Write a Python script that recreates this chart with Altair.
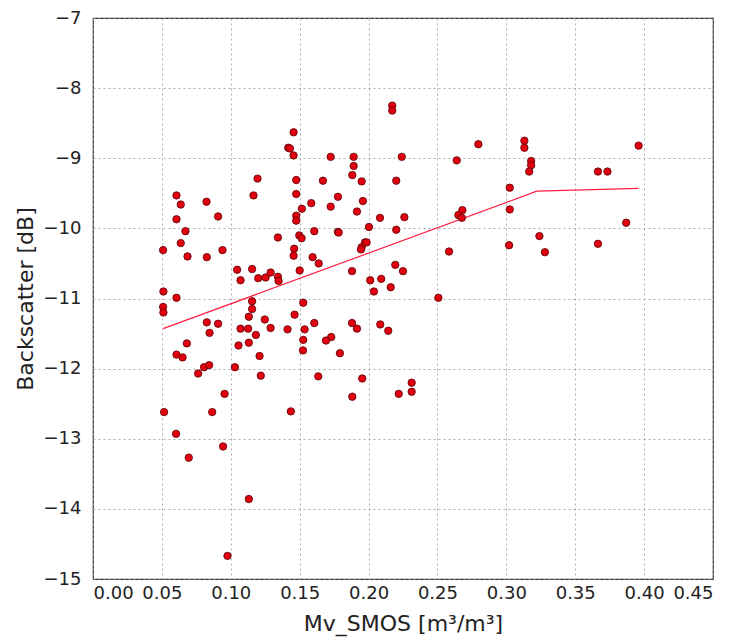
import altair as alt
import pandas as pd

# Scatter data: Mv_SMOS soil moisture [m3/m3] vs backscatter [dB]
mv_smos = [
    0.0509, 0.0606, 0.0637, 0.0606, 0.0671, 0.0637, 0.0686, 0.0824, 0.0908, 0.0826,
    0.0940, 0.0511, 0.0606, 0.0509, 0.0511, 0.0826, 0.0908, 0.0846, 0.0681, 0.0606,
    0.0650, 0.0806, 0.0843, 0.1030, 0.1194, 0.1165, 0.1342, 0.1046, 0.1071, 0.1155,
    0.1199, 0.1253, 0.1289, 0.1342, 0.1347, 0.1155, 0.1155, 0.1131, 0.1247, 0.1289,
    0.1071, 0.1126, 0.1182, 0.1131, 0.1056, 0.1209, 0.0763, 0.1218, 0.0516, 0.0955,
    0.0865, 0.0603, 0.0944, 0.0695, 0.1131, 0.0976, 0.2172, 0.2172, 0.1456, 0.1417,
    0.1429, 0.1456, 0.1725, 0.1892, 0.2241, 0.1892, 0.1882, 0.1950, 0.2201, 0.1475,
    0.1669, 0.1475, 0.1778, 0.1959, 0.1584, 0.1516, 0.1725, 0.1916, 0.1475, 0.1475,
    0.2083, 0.2260, 0.1497, 0.1514, 0.1606, 0.1778, 0.1783, 0.2003, 0.2201, 0.1974,
    0.1986, 0.1950, 0.1945, 0.1460, 0.1456, 0.1594, 0.1638, 0.1500, 0.1880, 0.2194,
    0.2250, 0.2012, 0.2092, 0.2039, 0.2161, 0.2507, 0.2584, 0.1526, 0.1463, 0.1412,
    0.1536, 0.1606, 0.1526, 0.1729, 0.1691, 0.1880, 0.1916, 0.2085, 0.2143, 0.1524,
    0.1792, 0.1635, 0.1954, 0.2313, 0.2313, 0.1882, 0.2219, 0.1436, 0.2797, 0.3131,
    0.3131, 0.3960, 0.2640, 0.3180, 0.3180, 0.3166, 0.3665, 0.3734, 0.3025, 0.3025,
    0.2681, 0.2652, 0.2677, 0.3870, 0.3240, 0.3020, 0.3665, 0.3280,
]
backscatter = [
    -10.31, -9.53, -9.66, -9.87, -10.04, -10.21, -10.40, -9.62, -9.83, -10.41,
    -10.31, -10.90, -10.99, -11.12, -11.20, -11.34, -11.36, -11.49, -11.64, -11.80,
    -11.84, -11.98, -11.95, -11.98, -9.29, -9.53, -10.13, -10.59, -10.74, -10.58,
    -10.71, -10.70, -10.63, -10.69, -10.75, -11.04, -11.15, -11.26, -11.30, -11.42,
    -11.43, -11.43, -11.52, -11.63, -11.67, -11.82, -12.07, -12.10, -12.62, -12.36,
    -12.62, -12.93, -13.11, -13.27, -13.86, -14.67, -8.25, -8.32, -8.63, -8.85,
    -8.86, -8.96, -8.98, -8.98, -8.98, -9.11, -9.24, -9.33, -9.32, -9.31,
    -9.32, -9.51, -9.55, -9.61, -9.64, -9.72, -9.69, -9.76, -9.82, -9.89,
    -9.85, -9.84, -10.10, -10.14, -10.04, -10.05, -10.06, -9.98, -10.02, -10.20,
    -10.20, -10.27, -10.30, -10.29, -10.39, -10.41, -10.50, -10.60, -10.61, -10.52,
    -10.61, -10.74, -10.72, -10.90, -10.84, -10.99, -10.33, -11.06, -11.23, -11.44,
    -11.44, -11.35, -11.59, -11.55, -11.60, -11.35, -11.43, -11.37, -11.46, -11.74,
    -11.78, -12.11, -12.14, -12.20, -12.33, -12.40, -12.36, -12.61, -8.80, -8.75,
    -8.85, -8.82, -9.03, -9.04, -9.10, -9.19, -9.19, -9.19, -9.42, -9.73,
    -9.74, -9.81, -9.85, -9.92, -10.11, -10.24, -10.22, -10.34,
]

# Piecewise fitted line
fit_x = [0.0509, 0.3221, 0.3960]
fit_y = [-11.43, -9.47, -9.43]

points = pd.DataFrame({"mv": mv_smos, "bs": backscatter})
fit = pd.DataFrame({"mv": fit_x, "bs": fit_y})

x_enc = alt.X(
    "mv:Q",
    scale=alt.Scale(domain=[0, 0.45], nice=False, zero=False),
    axis=alt.Axis(
        values=[0, 0.05, 0.1, 0.15, 0.2, 0.25, 0.3, 0.35, 0.4, 0.45],
        format=".2f",
        title="Mv_SMOS [m³/m³]",
        labelFontSize=18,
        titleFontSize=22,
        titleFontWeight="normal",
        labelPadding=5,
        titlePadding=11,
        ticks=False,
        gridDash=[2, 3],
        gridColor="#999999",
        gridWidth=0.8,
        domain=False,
    ),
)
y_enc = alt.Y(
    "bs:Q",
    scale=alt.Scale(domain=[-15, -7], nice=False, zero=False),
    axis=alt.Axis(
        values=[-15, -14, -13, -12, -11, -10, -9, -8, -7],
        format="d",
        title="Backscatter [dB]",
        labelFontSize=18,
        titleFontSize=22,
        titleFontWeight="normal",
        labelPadding=12,
        titlePadding=6,
        ticks=False,
        gridDash=[2, 3],
        gridColor="#999999",
        gridWidth=0.8,
        domain=False,
    ),
)

line = alt.Chart(fit).mark_line(color="#ff2040", strokeWidth=1.2).encode(
    x=x_enc, y=y_enc
)
dots = alt.Chart(points).mark_circle(
    size=55, color="#e00010", opacity=1, stroke="#5a0000", strokeWidth=0.8
).encode(x="mv:Q", y="bs:Q")

chart = (
    alt.layer(line, dots)
    .properties(
        width=620,
        height=561,
        autosize=alt.AutoSizeParams(type="none"),
        padding={"left": 85, "top": 10, "right": 13, "bottom": 62},
        background="white",
    )
    .configure_view(stroke="#333333", strokeWidth=1.2)
    .configure_axis(
        labelFont="DejaVu Sans",
        titleFont="DejaVu Sans",
        labelColor="#222222",
        titleColor="#222222",
    )
)

chart.save("out.html", embed_options={"renderer": "svg", "actions": False})
